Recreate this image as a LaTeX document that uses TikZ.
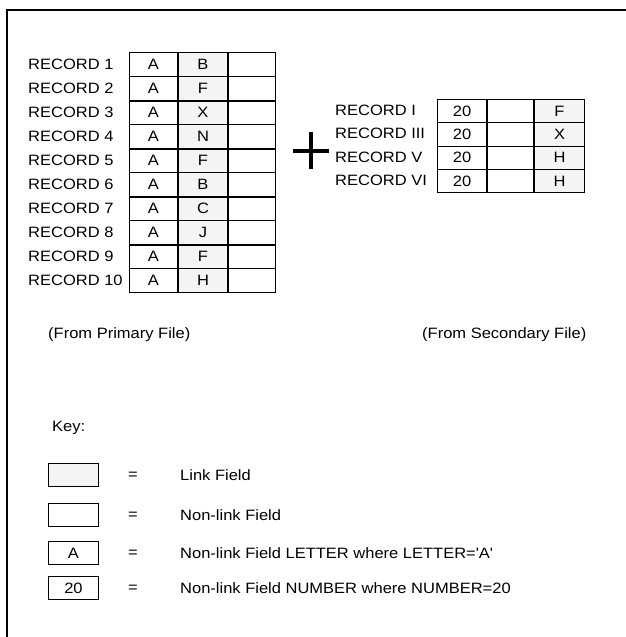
\documentclass[tikz,border=0pt]{standalone}
\usepackage{fontspec}
\setmainfont{Liberation Sans}[FakeStretch=1.1]
\usetikzlibrary{calc}
\definecolor{linkgray}{gray}{0.955}

\begin{document}
\begin{tikzpicture}[x=1pt,y=-1pt,font=\fontsize{15}{18}\selectfont,
	cell/.style={draw,line width=1pt,minimum height=24pt,inner sep=0pt,anchor=north west},
	link/.style={cell,fill=linkgray},
	lbl/.style={anchor=west,inner sep=0pt}]
	\useasboundingbox (0,0) rectangle (626,637);
	\draw[line width=2pt] (7,637) -- (7,9.5) -- (626,9.5); %枠
	\foreach \i/\m in {1/B,2/F,3/X,4/N,5/F,6/B,7/C,8/J,9/F,10/H}{ %主ファイル
		\node[cell,minimum width=48pt] (p\i a) at (129,{52+24*(\i-1)}) {A};
		\node[link,minimum width=49pt] (p\i b) at (p\i a.north east) {\m};
		\node[cell,minimum width=47pt] (p\i c) at (p\i b.north east) {};
		\node[lbl] (r\i) at (28,{64+24*(\i-1)}) {RECORD \i};
	}
	\foreach \i in {2,4,6,8}{ %区切り
		\draw[line width=2pt] (p\i a.south west) -- (p\i c.south east);
	}
	\foreach \k/\r/\m in {1/I/F,2/III/X,3/V/H,4/VI/H}{ %副ファイル
		\node[cell,minimum width=49pt,minimum height=23.25pt] (s\k a) at (437,{99+23.25*(\k-1)}) {20};
		\node[cell,minimum width=46pt,minimum height=23.25pt] (s\k b) at (s\k a.north east) {};
		\node[link,minimum width=50pt,minimum height=23.25pt] (s\k c) at (s\k b.north east) {\m};
		\node[lbl] (q\k) at (335,{110.5+23.25*(\k-1)}) {RECORD \r};
	}
	\coordinate (plus) at (311,150.5); %+
	\draw[line width=4pt] ($(plus)+(-18,0)$) -- ($(plus)+(18,0)$) ($(plus)+(0,-18.5)$) -- ($(plus)+(0,18.5)$);
	\node[lbl] (from1) at (48,335) {(From Primary File)};
	\node[lbl] (from2) at (422,335) {(From Secondary File)};
	\node[lbl] (key) at (52,428) {Key:};
	\foreach \k/\y/\s/\t/\d in {1/463/link//Link Field,2/503/cell//Non-link Field,
		3/541/cell/A/Non-link Field LETTER where LETTER=\textquotesingle A\textquotesingle,
		4/576/cell/20/Non-link Field NUMBER where NUMBER=20}{ %凡例
		\node[\s,minimum width=50pt,minimum height=23pt] (k\k) at (48,\y) {\t};
		\node (eq\k) at (133,{\y+13}) {=};
		\node[lbl] (d\k) at (180,{\y+12}) {\d};
	}
\end{tikzpicture}
\end{document}
